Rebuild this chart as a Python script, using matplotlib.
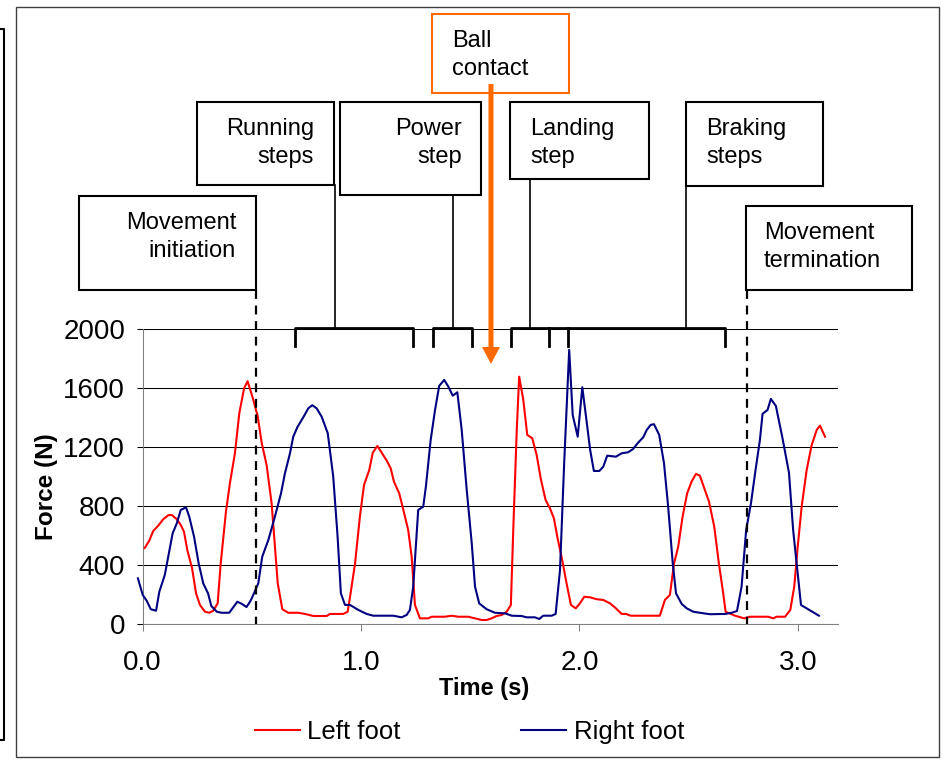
import matplotlib.pyplot as plt
from matplotlib import transforms
from matplotlib.patches import Rectangle, FancyArrow

plt.rcParams['font.family'] = ['Liberation Sans', 'DejaVu Sans']

# Vertical ground reaction force
left_t = [0.010, 0.031, 0.049, 0.072, 0.095, 0.118, 0.134, 0.157, 0.175, 0.190,
          0.205, 0.227, 0.245, 0.263, 0.286, 0.306, 0.324, 0.344, 0.358, 0.382,
          0.400, 0.423, 0.443, 0.465, 0.481, 0.503, 0.527, 0.546, 0.568, 0.591,
          0.606, 0.619, 0.640, 0.667, 0.713, 0.744, 0.782, 0.843, 0.858, 0.919,
          0.939, 0.950, 0.973, 0.995, 1.014, 1.038, 1.054, 1.075, 1.095, 1.118,
          1.136, 1.151, 1.175, 1.194, 1.216, 1.232, 1.247, 1.270, 1.308, 1.324,
          1.384, 1.415, 1.445, 1.491, 1.537, 1.552, 1.575, 1.598, 1.621, 1.644,
          1.667, 1.686, 1.697, 1.713, 1.724, 1.743, 1.761, 1.784, 1.804, 1.824,
          1.845, 1.865, 1.883, 1.900, 1.921, 1.941, 1.961, 1.983, 2.002, 2.022,
          2.048, 2.079, 2.109, 2.140, 2.167, 2.193, 2.213, 2.234, 2.368, 2.391,
          2.414, 2.433, 2.452, 2.472, 2.493, 2.513, 2.533, 2.551, 2.574, 2.593,
          2.617, 2.638, 2.658, 2.669, 2.712, 2.754, 2.780, 2.864, 2.887, 2.902,
          2.941, 2.965, 2.983, 2.999, 3.017, 3.040, 3.063, 3.086, 3.101, 3.124]
left_f = [513, 563, 629, 665, 709, 736, 738, 709, 670, 624,
          500, 375, 205, 126, 80, 73, 87, 137, 409, 760,
          953, 1157, 1429, 1599, 1647, 1542, 1411, 1225, 1078, 817,
          522, 273, 97, 73, 73, 65, 51, 51, 65, 65,
          80, 182, 409, 726, 942, 1044, 1161, 1207, 1161, 1107,
          1055, 964, 885, 772, 636, 454, 126, 35, 35, 46,
          46, 53, 46, 46, 29, 24, 24, 35, 51, 58,
          80, 126, 636, 1316, 1678, 1520, 1282, 1259, 1146, 976,
          840, 783, 715, 579, 432, 273, 126, 103, 137, 182,
          178, 165, 160, 137, 103, 65, 65, 53, 53, 160,
          194, 409, 522, 726, 885, 964, 1017, 1005, 908, 828,
          658, 409, 205, 80, 53, 35, 46, 46, 35, 46,
          46, 92, 250, 522, 794, 1044, 1214, 1316, 1345, 1270]

right_t = [-0.021, 0.001, 0.019, 0.038, 0.062, 0.077, 0.102, 0.138, 0.157, 0.175,
           0.199, 0.214, 0.236, 0.257, 0.278, 0.300, 0.315, 0.340, 0.362, 0.397,
           0.434, 0.455, 0.476, 0.492, 0.500, 0.530, 0.548, 0.576, 0.606, 0.634,
           0.652, 0.675, 0.690, 0.710, 0.736, 0.759, 0.777, 0.797, 0.820, 0.848,
           0.873, 0.893, 0.908, 0.927, 0.950, 0.988, 1.026, 1.056, 1.148, 1.186,
           1.209, 1.224, 1.239, 1.262, 1.285, 1.297, 1.319, 1.339, 1.358, 1.381,
           1.400, 1.420, 1.441, 1.461, 1.484, 1.507, 1.522, 1.541, 1.575, 1.613,
           1.659, 1.690, 1.735, 1.758, 1.796, 1.816, 1.834, 1.873, 1.891, 1.911,
           1.930, 1.953, 1.969, 1.992, 2.013, 2.030, 2.049, 2.066, 2.091, 2.109,
           2.127, 2.167, 2.193, 2.223, 2.246, 2.266, 2.292, 2.308, 2.326, 2.341,
           2.365, 2.387, 2.406, 2.427, 2.442, 2.468, 2.491, 2.521, 2.551, 2.597,
           2.666, 2.697, 2.721, 2.742, 2.763, 2.785, 2.806, 2.826, 2.838, 2.861,
           2.876, 2.899, 2.928, 2.959, 2.978, 3.014, 3.096]
right_f = [307, 194, 155, 97, 87, 216, 330, 613, 681, 772,
           790, 726, 590, 409, 273, 205, 119, 80, 73, 73,
           148, 133, 112, 148, 171, 273, 454, 568, 726, 885,
           1021, 1157, 1270, 1338, 1402, 1463, 1484, 1463, 1406, 1293,
           998, 590, 205, 126, 126, 92, 65, 53, 53, 42,
           58, 92, 250, 772, 794, 930, 1248, 1452, 1615, 1656,
           1610, 1549, 1572, 1316, 908, 545, 250, 137, 97, 73,
           69, 53, 51, 42, 42, 31, 53, 53, 65, 364,
           1089, 1860, 1418, 1270, 1606, 1406, 1180, 1037, 1037, 1066,
           1141, 1134, 1157, 1164, 1187, 1225, 1266, 1316, 1350, 1355,
           1282, 1089, 794, 409, 205, 133, 103, 80, 73, 63,
           65, 73, 85, 250, 636, 817, 1044, 1248, 1425, 1452,
           1527, 1479, 1270, 1025, 636, 126, 53]

y_ticks = [0, 400, 800, 1200, 1600, 2000]
x_ticks = [0.0, 1.0, 2.0, 3.0]
x_tick_labels = ["0.0", "1.0", "2.0", "3.0"]

# Phase markers (s)
move_start = 0.519
move_end = 2.767
ball_contact = 1.595
brackets = [(0.698, 1.238), (1.328, 1.507), (1.686, 2.668)]
bracket_inner = [1.862, 1.949]
connectors = [0.879, 1.419, 1.773, 2.487]

W, H = 947, 761
fig = plt.figure(figsize=(W / 100, H / 100), dpi=100)
ax = fig.add_axes([142.5 / W, 1 - 623.5 / H, (837.7 - 142.5) / W, 294.2 / H])

ax.plot(left_t, left_f, color='#FF0000', lw=1.5, label='Left foot', clip_on=False, zorder=3)
ax.plot(right_t, right_f, color='#000080', lw=1.5, label='Right foot', clip_on=False, zorder=3)

ax.set_xlim(0, 3.182)
ax.set_ylim(0, 2000)
ax.set_yticks(y_ticks)
ax.set_xticks(x_ticks)
ax.set_xticklabels(x_tick_labels)
ax.yaxis.grid(True, color='black', lw=0.75)
ax.set_axisbelow(True)
for s in ['top', 'right']:
    ax.spines[s].set_visible(False)
for s in ['left', 'bottom']:
    ax.spines[s].set_color('#808080')
    ax.spines[s].set_linewidth(0.75)
ax.tick_params(axis='y', direction='out', length=4.5, width=0.75, color='black', pad=8, labelsize=20)
ax.tick_params(axis='x', direction='out', length=5, width=0.75, color='#808080', pad=14, labelsize=20)

fig.text(484 / W, 1 - 688 / H, 'Time (s)', fontsize=17, fontweight='bold', ha='center', va='center')
fig.text(47 / W, 1 - 487 / H, 'Force (N)', fontsize=17.5, fontweight='bold', ha='center', va='center',
         rotation=90)

ax.legend(loc='center', bbox_to_anchor=(469.5 / W, 1 - 732 / H), bbox_transform=fig.transFigure,
          ncol=2, frameon=False, handlelength=1.75, handletextpad=0.3, columnspacing=4.7, fontsize=18.5)

# Overlay in pixel units for the boxes and markers
ov = fig.add_axes([0, 0, 1, 1])
ov.set_xlim(0, W)
ov.set_ylim(H, 0)
ov.axis('off')
ov.patch.set_visible(False)
trans = transforms.blended_transform_factory(ax.transData, ov.transData)

# frames
ov.add_patch(Rectangle((15.7, 6.7), 939 - 15.7, 757 - 6.7, fill=False, ec='#404040', lw=1))
ov.plot([0, 4, 4, 0], [29, 29, 740, 740], color='black', lw=1.5)

# text boxes: (x0, y0, x1, y1), text position, alignment
boxes = [
    ("Movement\ninitiation", (79, 196, 256, 290), (236, 237), 'right'),
    ("Running\nsteps", (197, 102, 334, 185), (314, 143), 'right'),
    ("Power\nstep", (340, 102, 481, 195), (462, 143), 'right'),
    ("Landing\nstep", (510, 102, 649, 179), (530, 143), 'left'),
    ("Braking\nsteps", (686, 102, 823, 186), (706, 143), 'left'),
    ("Movement\ntermination", (746, 206, 912, 290), (764, 247), 'left'),
]
for label, (x0, y0, x1, y1), (tx, ty), ha in boxes:
    ov.add_patch(Rectangle((x0, y0), x1 - x0, y1 - y0, fill=False, ec='black', lw=1.5))
    ov.text(tx, ty, label, fontsize=17, ha=ha, va='center', multialignment=ha, linespacing=1.3)

# dashed start / end markers
for t, y_top in [(move_start, 290), (move_end, 290)]:
    ov.plot([t, t], [y_top, 624], transform=trans, color='black', lw=1.6, ls=(0, (4, 3)), clip_on=False)

# brackets
for t0, t1 in brackets:
    ov.plot([t0, t0, t1, t1], [346, 328, 328, 346], transform=trans, color='black', lw=2, clip_on=False)
for t in bracket_inner:
    ov.plot([t, t], [328, 346], transform=trans, color='black', lw=2, clip_on=False)
for t, y_top in zip(connectors, [185, 195, 179, 186]):
    ov.plot([t, t], [328, y_top], transform=trans, color='black', lw=1.2, clip_on=False)

# ball contact
ov.add_patch(Rectangle((432, 14), 137, 79, fill=False, ec='#FF6A00', lw=1.5))
ov.text(452, 55, "Ball\ncontact", fontsize=17, ha='left', va='center', linespacing=1.3)
bx = ax.transData.transform((ball_contact, 0))[0]
ov.add_patch(FancyArrow(bx, 84, 0, 280, width=5, head_width=18, head_length=17,
                        length_includes_head=True, color='#FF6A00', lw=0))

fig.savefig('out.png', dpi=100)
